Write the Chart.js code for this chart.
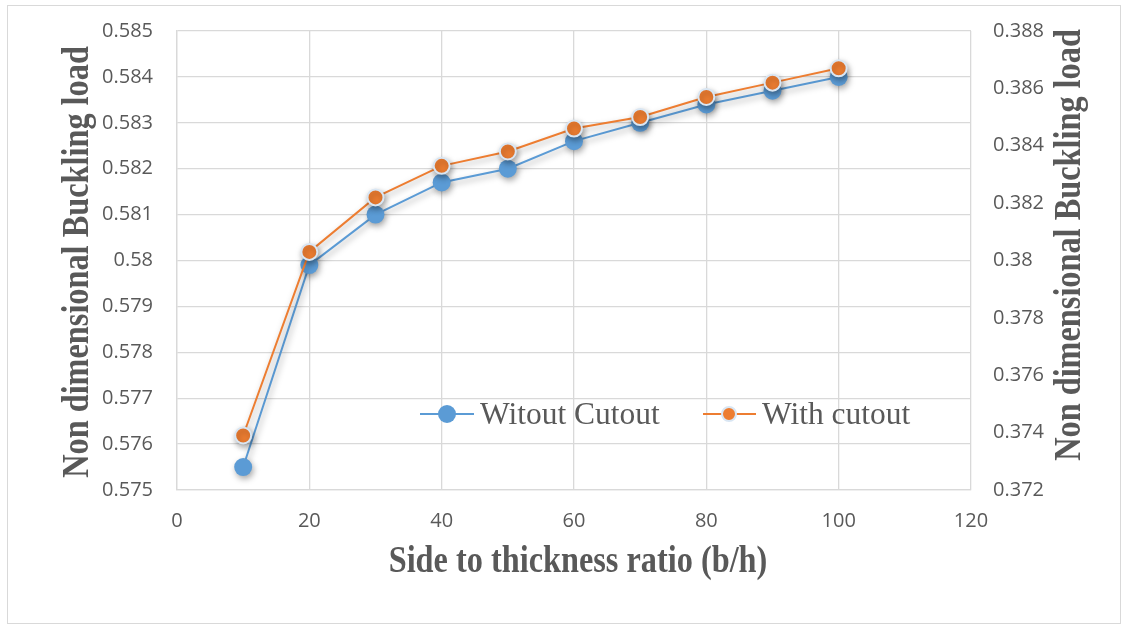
<!DOCTYPE html>
<html>
<head>
<meta charset="utf-8">
<script src="https://cdn.jsdelivr.net/npm/chart.js@4/dist/chart.umd.min.js"></script>
<style>
  html, body { margin: 0; padding: 0; background: #fff; }
  #wrap { position: relative; width: 1129px; height: 630px; overflow: hidden; }
  #frame { position: absolute; left: 7px; top: 5px; width: 1114px; height: 619px; border: 1px solid #d9d9d9; box-sizing: border-box; pointer-events: none; }
  canvas { position: absolute; left: 0; top: 0; }
  .lg { position: absolute; font-family: "Liberation Serif", "Times New Roman", serif; font-size: 31.5px; line-height: 34px; color: #595959; white-space: nowrap; }
  .lgline { position: absolute; height: 2px; }
  .lgdot { position: absolute; border-radius: 50%; box-sizing: border-box; }
</style>
</head>
<body>
<div id="wrap">
  <canvas id="c" width="1129" height="630"></canvas>
  <div id="frame"></div>
  <div id="legend"></div>
</div>
<script>
// ---- data ----
const ratios = [10, 20, 30, 40, 50, 60, 70, 80, 90, 100];
const withoutCutout = [0.5755, 0.5799, 0.5810, 0.5817, 0.5820, 0.5826, 0.5830, 0.5834, 0.5837, 0.5840];
const withCutout = [0.3739, 0.3803, 0.3822, 0.3833, 0.3838, 0.3846, 0.3850, 0.3857, 0.3862, 0.3867];
const seriesNames = ["Witout Cutout", "With cutout"];
const xAxisRange = [0, 120, 20];
const leftAxisRange = [0.575, 0.585, 0.001];
const rightAxisRange = [0.372, 0.388, 0.002];
const xTitle = "Side to thickness ratio (b/h)";
const yTitle = "Non dimensional Buckling load";

const BLUE = "#5B9BD5", ORANGE = "#ED7D31", TXT = "#595959", GRID = "#d9d9d9";

const shadowPlugin = {
  id: "shadow",
  beforeDatasetsDraw(chart) {
    const ctx = chart.ctx;
    ctx.save();
    ctx.shadowColor = "rgba(0,0,0,0.35)";
    ctx.shadowBlur = 6;
    ctx.shadowOffsetX = 1.5;
    ctx.shadowOffsetY = 3;
  },
  afterDatasetsDraw(chart) { chart.ctx.restore(); }
};

function drawTitle(ctx, text, x, y, rot) {
  ctx.save();
  ctx.translate(x, y);
  ctx.rotate(rot);
  ctx.scale(0.85, 1);
  ctx.font = 'bold 38px "Liberation Serif", "Times New Roman", serif';
  ctx.fillStyle = TXT;
  ctx.textAlign = "center";
  ctx.textBaseline = "alphabetic";
  ctx.fillText(text, 0, 0);
  ctx.restore();
}

const titlePlugin = {
  id: "titles",
  afterDraw(chart) {
    const ctx = chart.ctx;
    const a = chart.chartArea;
    drawTitle(ctx, xTitle, (a.left + a.right) / 2 + 4, 572, 0);
    drawTitle(ctx, yTitle, 88, 262, -Math.PI / 2);
    drawTitle(ctx, yTitle, 1080, 245, -Math.PI / 2);
  }
};

const fmt = v => String(parseFloat(Number(v).toFixed(4)));
const tickFont = { family: "'Open Sans', sans-serif", size: 20 };

new Chart(document.getElementById("c"), {
  type: "line",
  data: {
    datasets: [
      {
        label: seriesNames[0],
        data: ratios.map((x, i) => ({ x, y: withoutCutout[i] })),
        yAxisID: "y",
        borderColor: BLUE,
        backgroundColor: BLUE,
        borderWidth: 2,
        pointRadius: 9,
        pointBorderWidth: 0,
        pointBackgroundColor: BLUE,
        pointBorderColor: BLUE,
        order: 1,
        tension: 0
      },
      {
        label: seriesNames[1],
        data: ratios.map((x, i) => ({ x, y: withCutout[i] })),
        yAxisID: "y1",
        borderColor: ORANGE,
        backgroundColor: ORANGE,
        borderWidth: 2,
        pointRadius: 8,
        pointBorderWidth: 2,
        pointBackgroundColor: ORANGE,
        pointBorderColor: "#d9e6f3",
        order: 0,
        tension: 0
      }
    ]
  },
  options: {
    responsive: false,
    animation: false,
    events: [],
    layout: { padding: { top: 31, left: 0, right: 0, bottom: 0 } },
    plugins: { legend: { display: false }, tooltip: { enabled: false } },
    scales: {
      x: {
        type: "linear",
        min: xAxisRange[0], max: xAxisRange[1],
        ticks: { stepSize: xAxisRange[2], color: TXT, font: tickFont, padding: 19 },
        grid: { color: GRID, lineWidth: 1.3, drawTicks: false },
        border: { color: GRID, width: 1.3 },
        afterFit(s) { s.height = 140; s.paddingLeft = 0; s.paddingRight = 0; }
      },
      y: {
        position: "left",
        min: leftAxisRange[0], max: leftAxisRange[1],
        ticks: { stepSize: leftAxisRange[2], color: TXT, font: tickFont, padding: 24, callback: fmt },
        grid: { color: GRID, lineWidth: 1.3, drawTicks: false },
        border: { color: GRID, width: 1.3 },
        afterFit(s) { s.width = 177; s.paddingTop = 0; s.paddingBottom = 0; }
      },
      y1: {
        position: "right",
        min: rightAxisRange[0], max: rightAxisRange[1],
        ticks: { stepSize: rightAxisRange[2], color: TXT, font: tickFont, padding: 22, callback: fmt },
        grid: { display: false, drawTicks: false, tickLength: 0 },
        border: { display: false },
        afterFit(s) { s.width = 158; s.paddingTop = 0; s.paddingBottom = 0; }
      }
    }
  },
  plugins: [shadowPlugin, titlePlugin]
});

// legend (HTML overlay)
const legendSpecs = [
  { name: seriesNames[0], color: BLUE, lineL: 420, lineR: 474, dot: 447, r: 9, ring: null, textL: 480 },
  { name: seriesNames[1], color: ORANGE, lineL: 703, lineR: 756, dot: 729, r: 8, ring: "#d9e6f3", textL: 762 }
];
const lg = document.getElementById("legend");
const cy = 414;
legendSpecs.forEach(s => {
  const line = document.createElement("div");
  line.className = "lgline";
  line.style.cssText = `left:${s.lineL}px;top:${cy - 1}px;width:${s.lineR - s.lineL}px;background:${s.color};`;
  lg.appendChild(line);
  const dot = document.createElement("div");
  dot.className = "lgdot";
  dot.style.cssText = `left:${s.dot - s.r}px;top:${cy - s.r}px;width:${2 * s.r}px;height:${2 * s.r}px;background:${s.color};` +
    (s.ring ? `border:2px solid ${s.ring};` : "");
  lg.appendChild(dot);
  const t = document.createElement("div");
  t.className = "lg";
  t.style.left = s.textL + "px";
  t.style.top = "397px";
  t.textContent = s.name;
  lg.appendChild(t);
});
</script>
</body>
</html>
